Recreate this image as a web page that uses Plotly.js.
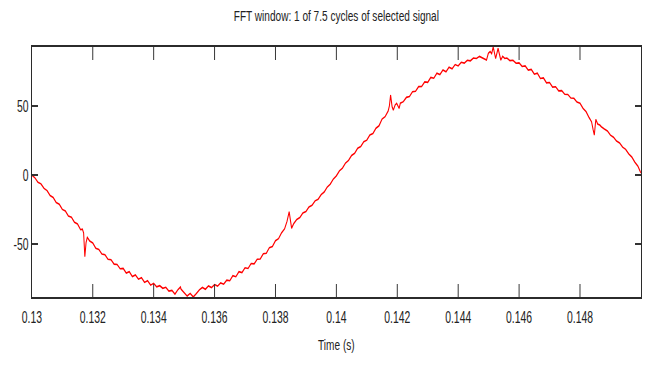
<!DOCTYPE html>
<html>
<head>
<meta charset="utf-8">
<script src="https://cdn.plot.ly/plotly-3.0.1.min.js"></script>
<style>
  html, body { margin: 0; padding: 0; background: #ffffff; overflow: hidden; }
  #wrap { width: 649px; height: 365px; overflow: hidden; }
  #chart { width: 998px; height: 365px; transform: scaleX(0.65); transform-origin: 0 0; }
</style>
</head>
<body>
<div id="wrap"><div id="chart"></div></div>
<script>
// Time (s) of each sample
const time = [
  0.1300, 0.1301, 0.1302, 0.1303, 0.1304, 0.1305, 0.1306, 0.1307, 0.1308, 0.1309,
  0.1310, 0.1311, 0.1312, 0.1313, 0.1314, 0.1315, 0.1316, 0.13166, 0.1317, 0.13174,
  0.13178, 0.13182, 0.13186, 0.1319, 0.1320, 0.1321, 0.1322, 0.1323, 0.1324, 0.1325,
  0.1326, 0.1327, 0.1328, 0.1329, 0.1330, 0.1331, 0.1332, 0.1333, 0.1334, 0.1335,
  0.1336, 0.1337, 0.1338, 0.1339, 0.1340, 0.1341, 0.1342, 0.1343, 0.1344, 0.1345,
  0.1346, 0.1347, 0.1348, 0.13488, 0.1349, 0.1350, 0.1351, 0.1352, 0.1353, 0.1354,
  0.1355, 0.1356, 0.1357, 0.1358, 0.1359, 0.1360, 0.1361, 0.1362, 0.1363, 0.1364,
  0.1365, 0.1366, 0.1367, 0.1368, 0.1369, 0.1370, 0.1371, 0.1372, 0.1373, 0.1374,
  0.1375, 0.1376, 0.1377, 0.1378, 0.1379, 0.1380, 0.1381, 0.1382, 0.1383, 0.13838,
  0.13845, 0.13853, 0.1386, 0.1387, 0.1388, 0.1389, 0.1390, 0.1391, 0.1392, 0.1393,
  0.1394, 0.1395, 0.1396, 0.1397, 0.1398, 0.1399, 0.1400, 0.1401, 0.1402, 0.1403,
  0.1404, 0.1405, 0.1406, 0.1407, 0.1408, 0.1409, 0.1410, 0.1411, 0.1412, 0.1413,
  0.1414, 0.1415, 0.1416, 0.1417, 0.14174, 0.14178, 0.14183, 0.14187, 0.14193, 0.14198,
  0.14206, 0.1421, 0.1422, 0.1423, 0.1424, 0.1425, 0.1426, 0.1427, 0.1428, 0.1429,
  0.1430, 0.1431, 0.1432, 0.1433, 0.1434, 0.1435, 0.1436, 0.1437, 0.1438, 0.1439,
  0.1440, 0.1441, 0.1442, 0.1443, 0.1444, 0.1445, 0.1446, 0.1447, 0.1448, 0.14493,
  0.14499, 0.14505, 0.1451, 0.14515, 0.14523, 0.14531, 0.1454, 0.14546, 0.14553, 0.1456,
  0.1457, 0.1458, 0.1459, 0.1460, 0.1461, 0.1462, 0.1463, 0.1464, 0.1465, 0.1466,
  0.1467, 0.1468, 0.1469, 0.1470, 0.1471, 0.1472, 0.1473, 0.1474, 0.1475, 0.1476,
  0.1477, 0.1478, 0.1479, 0.1480, 0.1481, 0.1482, 0.1483, 0.14838, 0.14843, 0.14847,
  0.14852, 0.14858, 0.14865, 0.1487, 0.1488, 0.1489, 0.1490, 0.1491, 0.1492, 0.1493,
  0.1494, 0.1495, 0.1496, 0.1497, 0.1498, 0.1499, 0.1500
];
// Signal value at each sample
const amplitude = [
  0.0, -2.0, -5.2, -6.4, -9.7, -11.3, -14.9, -16.2, -19.9, -21.2,
  -24.9, -26.0, -29.7, -30.6, -34.3, -35.5, -39.6, -39.2, -42.0, -59.2,
  -49.0, -45.2, -46.5, -47.8, -49.2, -53.1, -53.9, -57.2, -57.7, -61.0,
  -61.4, -64.6, -64.8, -67.9, -67.7, -71.0, -70.1, -73.6, -72.4, -75.5,
  -74.4, -77.8, -76.6, -79.8, -78.5, -81.0, -80.2, -82.1, -81.4, -84.1,
  -83.6, -86.3, -83.0, -81.2, -82.8, -85.0, -87.7, -85.8, -88.4, -86.0,
  -83.2, -81.5, -82.8, -80.4, -81.6, -79.4, -80.5, -78.2, -79.1, -76.2,
  -76.6, -72.9, -73.7, -70.0, -70.7, -67.2, -67.7, -64.1, -64.4, -61.0,
  -60.9, -57.0, -56.7, -52.6, -51.8, -47.6, -46.1, -41.9, -39.0, -33.5,
  -26.6, -38.6, -35.2, -32.2, -30.8, -27.5, -26.4, -23.1, -21.9, -18.7,
  -17.6, -14.2, -12.3, -8.7, -6.6, -2.9, -0.6, 3.0, 5.0, 8.7,
  10.6, 14.2, 15.8, 19.4, 20.7, 24.1, 25.3, 29.0, 30.1, 33.9,
  35.7, 40.6, 42.3, 46.4, 50.0, 58.0, 49.5, 47.1, 50.8, 52.0,
  48.3, 52.1, 53.2, 56.3, 56.9, 60.4, 60.7, 64.1, 64.2, 67.5,
  67.2, 70.8, 70.2, 73.8, 72.8, 76.2, 74.9, 78.2, 77.0, 80.1,
  79.1, 81.7, 81.1, 83.2, 82.8, 84.8, 84.5, 86.0, 84.7, 83.3,
  88.2, 89.5, 88.0, 92.8, 84.5, 91.8, 83.3, 86.0, 84.5, 84.8,
  82.9, 83.2, 81.0, 81.3, 78.7, 79.1, 76.1, 76.6, 73.1, 73.8,
  70.0, 70.4, 66.8, 67.1, 63.7, 64.0, 61.0, 61.2, 58.5, 58.4,
  55.8, 55.6, 52.9, 52.0, 48.3, 45.9, 41.6, 38.6, 33.0, 29.0,
  40.4, 37.0, 36.2, 35.0, 33.4, 31.9, 28.9, 27.4, 24.6, 23.3,
  20.2, 18.6, 15.3, 13.1, 9.4, 6.5, 1.5
];
// Tick labels
const xTickVals = [0.13, 0.132, 0.134, 0.136, 0.138, 0.14, 0.142, 0.144, 0.146, 0.148];
const xTickText = ['0.13', '0.132', '0.134', '0.136', '0.138', '0.14', '0.142', '0.144', '0.146', '0.148'];
const yTickVals = [-50, 0, 50];
const yTickText = ['-50', '0', '50'];
const titleText = 'FFT window: 1 of 7.5 cycles of selected signal';
const xTitleText = 'Time (s)';

const FONT = 'Liberation Sans, Arial, Helvetica, sans-serif';

const trace = {
  type: 'scatter',
  mode: 'lines',
  x: time,
  y: amplitude,
  line: { color: '#ff0000', width: 1.6 },
  hoverinfo: 'skip'
};

const layout = {
  width: 998,
  height: 365,
  margin: { l: 49, r: 12, t: 47, b: 68, pad: 0 },
  paper_bgcolor: '#ffffff',
  plot_bgcolor: '#ffffff',
  showlegend: false,
  font: { family: FONT, color: '#222222', size: 16 },
  title: {
    text: titleText,
    font: { family: FONT, size: 15.5, color: '#222222' },
    x: 0.5, xref: 'paper', xanchor: 'center',
    y: 1 - 16 / 365, yref: 'container', yanchor: 'middle'
  },
  xaxis: {
    range: [0.13, 0.15],
    tickmode: 'array',
    tickvals: xTickVals,
    ticktext: xTickText,
    ticks: 'inside',
    ticklen: 13,
    tickwidth: 1.5,
    tickcolor: '#333333',
    ticklabelstandoff: 5,
    showline: true,
    linecolor: '#2b2b2b',
    linewidth: 2,
    mirror: 'ticks',
    showgrid: false,
    zeroline: false,
    tickfont: { family: FONT, size: 16, color: '#222222' },
    title: { text: xTitleText, font: { family: FONT, size: 15.5, color: '#222222' }, standoff: 14 }
  },
  yaxis: {
    range: [-88.4, 92.8],
    tickmode: 'array',
    tickvals: yTickVals,
    ticktext: yTickText,
    ticks: 'inside',
    ticklen: 9,
    tickwidth: 2,
    tickcolor: '#333333',
    showline: true,
    linecolor: '#2b2b2b',
    linewidth: 2,
    mirror: 'ticks',
    showgrid: false,
    zeroline: false,
    tickfont: { family: FONT, size: 16, color: '#222222' }
  }
};

Plotly.newPlot('chart', [trace], layout, { displayModeBar: false, staticPlot: true, responsive: false });
</script>
</body>
</html>
